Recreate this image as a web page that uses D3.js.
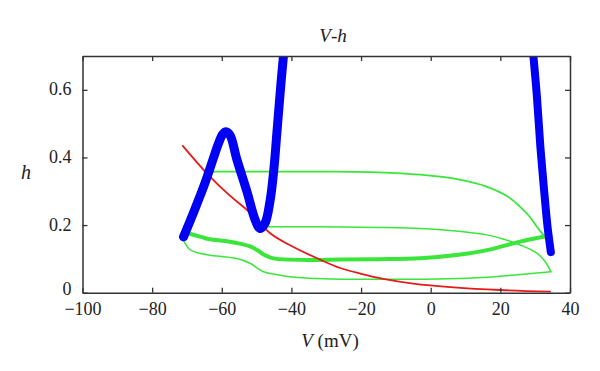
<!DOCTYPE html>
<html>
<head>
<meta charset="utf-8">
<script src="https://cdn.jsdelivr.net/npm/d3@7"></script>
<style>
  body { margin: 0; background: #fff; }
  svg text { font-family: "Liberation Serif", "Times New Roman", serif; fill: #222; }
</style>
</head>
<body>
<script>
// Data: [V (mV), h]
const blueLeft = [[-71.0, 0.165], [-68, 0.24], [-64.8, 0.325], [-62.5, 0.395], [-61, 0.44], [-59.8, 0.468],
  [-58.8, 0.476], [-57.6, 0.465], [-55.7, 0.395], [-52.8, 0.3], [-50.4, 0.215], [-49, 0.19],
  [-47.6, 0.205], [-46.1, 0.274], [-45, 0.37], [-44.2, 0.47], [-43, 0.62], [-42.2, 0.71]];
const blueRight = [[29.4, 0.71], [30.5, 0.58], [31.5, 0.43], [32.5, 0.31], [33.5, 0.2], [34.5, 0.12]];
const redCurve = [[-71.2, 0.434], [-64.3, 0.353], [-58, 0.29], [-52.8, 0.245], [-46.1, 0.176], [-40, 0.138],
  [-31.8, 0.098], [-26, 0.073], [-20, 0.056], [-13.6, 0.041], [-5, 0.027], [6.6, 0.016], [20, 0.008], [34.3, 0.003]];
const greenThick = [[-70.5, 0.178], [-66, 0.165], [-63.4, 0.158], [-59, 0.153], [-55.7, 0.147], [-51.9, 0.137],
  [-49.5, 0.124], [-48, 0.113], [-46, 0.104], [-44.2, 0.1], [-35, 0.097], [-26, 0.098], [-15, 0.099],
  [-3, 0.102], [8, 0.112], [16.2, 0.126], [25.7, 0.151], [32.7, 0.166]];
const greenUpper = [[-65, 0.358], [-50, 0.358], [-31.8, 0.358], [-15, 0.356], [-3, 0.349], [8, 0.335],
  [16.2, 0.313], [22, 0.285], [25.7, 0.254], [28.5, 0.224], [30.5, 0.195], [32.7, 0.166]];
const greenMiddle = [[-48, 0.195], [-31.8, 0.195], [-15, 0.193], [-3, 0.19], [8, 0.182], [16.2, 0.171],
  [21, 0.158], [25.7, 0.141], [30.5, 0.117], [33, 0.09], [34.5, 0.062]];
const greenLower = [[34.5, 0.062], [25, 0.053], [16.2, 0.046], [5, 0.041], [-3, 0.04], [-15, 0.04], [-26, 0.04],
  [-35, 0.043], [-40.4, 0.047], [-44, 0.053], [-48, 0.062], [-50, 0.074], [-51.9, 0.087], [-55.7, 0.101],
  [-60, 0.107], [-63.4, 0.111], [-67, 0.118], [-69.1, 0.127], [-70.5, 0.145], [-71, 0.16]];
const xTicks = [-100, -80, -60, -40, -20, 0, 20, 40];
const yTicks = [0, 0.2, 0.4, 0.6];

const W = 600, H = 371;
const margin = {top: 56, left: 82.5, right: 30, bottom: 78.3};
const width = W - margin.left - margin.right;
const height = H - margin.top - margin.bottom;
const serif = '"Liberation Serif", "Times New Roman", serif';

const svg = d3.select("body").append("svg")
  .attr("width", W).attr("height", H);
const g = svg.append("g").attr("transform", `translate(${margin.left},${margin.top})`);

const x = d3.scaleLinear().domain([-100, 40]).range([0, width]);
const y = d3.scaleLinear().domain([0, 0.7]).range([height, 0]);

g.append("clipPath").attr("id", "clip")
  .append("rect").attr("width", width).attr("height", height);

const line = d3.line().x(d => x(d[0])).y(d => y(d[1])).curve(d3.curveCatmullRom.alpha(0.5));
const plot = g.append("g").attr("clip-path", "url(#clip)");

function drawCurve(data, color, w) {
  plot.append("path").datum(data)
    .attr("d", line)
    .attr("fill", "none")
    .attr("stroke", color)
    .attr("stroke-width", w)
    .attr("stroke-linecap", "round")
    .attr("stroke-linejoin", "round");
}

drawCurve(greenLower, "#3ae63a", 1.5);
drawCurve(greenMiddle, "#3ae63a", 1.5);
drawCurve(greenUpper, "#3ae63a", 1.8);
drawCurve(greenThick, "#3ae63a", 4);
drawCurve(redCurve, "#e61a1a", 1.8);
drawCurve(blueLeft, "#0000f5", 9);
drawCurve(blueRight, "#0000f5", 8);

// Axes with inward ticks on all four sides
const fmt = d => d === 0 ? "0" : (d < 0 ? "\u2212" + Math.abs(d) : String(d));
const axB = g.append("g").attr("transform", `translate(0,${height})`)
  .call(d3.axisBottom(x).tickValues(xTicks).tickSizeInner(-5).tickSizeOuter(0).tickPadding(11).tickFormat(fmt));
const axT = g.append("g")
  .call(d3.axisTop(x).tickValues(xTicks).tickSizeInner(-5).tickSizeOuter(0).tickFormat(""));
const axL = g.append("g")
  .call(d3.axisLeft(y).tickValues(yTicks).tickSizeInner(-5).tickSizeOuter(0).tickPadding(11).tickFormat(d => d === 0 ? "0" : d3.format(".1f")(d)));
const axR = g.append("g").attr("transform", `translate(${width},0)`)
  .call(d3.axisRight(y).tickValues(yTicks).tickSizeInner(-5).tickSizeOuter(0).tickFormat(""));

[axB, axT, axL, axR].forEach(a => {
  a.attr("font-family", null).attr("font-size", null);
  a.select(".domain").attr("stroke", "#333").attr("stroke-width", 1.5);
  a.selectAll(".tick line").attr("stroke", "#333").attr("stroke-width", 1.3);
  a.selectAll("text").style("font-family", serif).style("font-size", "18px").style("fill", "#222");
});
axL.selectAll(".tick text").attr("dy", d => d === 0 ? "0.12em" : "0.28em");
axB.selectAll(".tick text").attr("dy", "0.62em");

// Title and axis labels
const title = svg.append("text").attr("x", 333).attr("y", 42)
  .attr("text-anchor", "middle").style("font-family", serif).style("font-size", "19px");
title.append("tspan").attr("font-style", "italic").text("V");
title.append("tspan").text("-");
title.append("tspan").attr("font-style", "italic").text("h");

const xl = svg.append("text").attr("x", 330).attr("y", 347)
  .attr("text-anchor", "middle").style("font-family", serif).style("font-size", "19px");
xl.append("tspan").attr("font-style", "italic").text("V");
xl.append("tspan").text(" (mV)");

svg.append("text").attr("x", 26).attr("y", 179)
  .attr("text-anchor", "middle").style("font-family", serif).style("font-size", "20px")
  .attr("font-style", "italic").text("h");
</script>
</body>
</html>
